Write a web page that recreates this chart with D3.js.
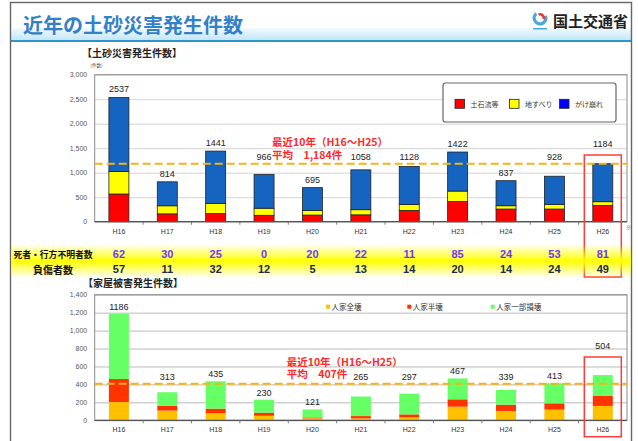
<!DOCTYPE html>
<html lang="ja">
<head>
<meta charset="utf-8">
<script src="https://cdn.jsdelivr.net/npm/d3@7"></script>
<style>
  html, body { margin: 0; padding: 0; background: #fff; }
  svg { display: block; font-family: 'Noto Sans CJK JP', 'Noto Sans', sans-serif; }
  .num { font-family: 'Liberation Sans', Arial, sans-serif; }
</style>
</head>
<body>
<svg id="chart" width="638" height="441"></svg>
<script>
// =============================================================================
// DATA
// =============================================================================
const years = ['H16', 'H17', 'H18', 'H19', 'H20', 'H21', 'H22', 'H23', 'H24', 'H25', 'H26'];

// 土砂災害発生件数
const debrisFlow   = [565, 160, 165, 130, 135, 140, 230, 410, 258, 258, 333];
const landslide    = [461, 165, 210, 145,  95, 105, 120, 215,  68,  96,  75];
const slopeFailure = [1511, 489, 1066, 691, 465, 813, 778, 797, 511, 574, 776];
const sedimentTicks = [0, 500, 1000, 1500, 2000, 2500, 3000];
const sedimentAvg = 1184;

// 死者・行方不明者数 / 負傷者数
const deaths  = [62, 30, 25, 0, 20, 22, 11, 85, 24, 53, 81];
const injured = [57, 11, 32, 12, 5, 13, 14, 20, 14, 24, 49];

// 家屋被害発生件数
const houseDestroyed = [204, 108, 78, 50, 22, 22, 32, 152, 104, 119, 160];
const houseHalf      = [256, 52, 52, 35, 10, 25, 34, 82, 70, 70, 111];
const housePartial   = [726, 153, 305, 145, 89, 218, 231, 233, 165, 224, 233];
const houseTicks = [0, 200, 400, 600, 800, 1000, 1200, 1400];
const houseAvg = 407;

const highlightYear = 'H26';

// =============================================================================
// LAYOUT
// =============================================================================
const svg = d3.select('#chart');
const plotLeft = 94.7, plotRight = 627;
const x = d3.scaleBand().domain(years).range([plotLeft, plotRight]);
const barW = 20;
const cx = d => x(d) + x.bandwidth() / 2;
const fmt = d3.format(',');

function drawFrame() {
    const defs = svg.append('defs');
    const band = defs.append('linearGradient').attr('id', 'band').attr('x1', 0).attr('x2', 0).attr('y1', 0).attr('y2', 1);
    band.append('stop').attr('offset', '0%').attr('stop-color', '#f2fafe');
    band.append('stop').attr('offset', '100%').attr('stop-color', '#c4e6f6');
    const hl = defs.append('linearGradient').attr('id', 'hl').attr('x1', 0).attr('x2', 0).attr('y1', 0).attr('y2', 1);
    hl.append('stop').attr('offset', '0%').attr('stop-color', '#ffff00').attr('stop-opacity', 0);
    hl.append('stop').attr('offset', '50%').attr('stop-color', '#ffff00').attr('stop-opacity', 1);
    hl.append('stop').attr('offset', '100%').attr('stop-color', '#ffff00').attr('stop-opacity', 0);

    svg.append('rect').attr('x', 11).attr('y', 28).attr('width', 620).attr('height', 12).attr('fill', 'url(#band)');
    svg.append('rect').attr('x', 11).attr('y', 40).attr('width', 620).attr('height', 2).attr('fill', '#2b96cc');

    svg.append('text')
        .attr('x', 23).attr('y', 24)
        .attr('dominant-baseline', 'central')
        .attr('font-size', '20px').attr('font-weight', 'bold')
        .attr('fill', '#3380c8')
        .text('近年の土砂災害発生件数');

    // logo
    const logo = svg.append('g').attr('transform', 'translate(540,18)');
    logo.append('path').attr('d', d3.arc().innerRadius(4.2).outerRadius(7.5).startAngle(1.2).endAngle(5.6)()).attr('fill', '#4aa6dc');
    logo.append('path').attr('d', d3.arc().innerRadius(2.5).outerRadius(5).startAngle(-0.4).endAngle(1.9)()).attr('fill', '#e23a3a');
    logo.append('rect').attr('x', -7).attr('y', 10).attr('width', 14).attr('height', 1.5).attr('fill', '#4aa6dc');
    svg.append('text')
        .attr('x', 553).attr('y', 20)
        .attr('dominant-baseline', 'central')
        .attr('font-size', '15px').attr('font-weight', 'bold')
        .attr('fill', '#222')
        .text('国土交通省');

    svg.append('rect')
        .attr('x', 10.5).attr('y', 2.5).attr('width', 621).attr('height', 460)
        .attr('fill', 'none').attr('stroke', '#666').attr('stroke-width', 1.4);
}

// =============================================================================
// STACKED BAR CHART
// =============================================================================
function drawStackChart(cfg) {
    const y = d3.scaleLinear().domain([0, cfg.ticks[cfg.ticks.length - 1]]).range([cfg.bottom, cfg.top]);
    const width = plotRight - plotLeft;
    const g = svg.append('g');

    const rows = years.map((yr, i) => {
        const r = { year: yr };
        cfg.series.forEach(s => { r[s.key] = s.values[i]; });
        return r;
    });
    const stacked = d3.stack().keys(cfg.series.map(s => s.key))(rows);
    const totals = rows.map(r => d3.sum(cfg.series, s => r[s.key]));
    const avgY = y(cfg.avg);

    // grid + y labels
    g.append('g')
        .attr('transform', `translate(${plotLeft},0)`)
        .call(d3.axisLeft(y).tickValues(cfg.ticks).tickSize(-width).tickPadding(7.5).tickFormat(fmt))
        .call(ax => ax.select('.domain').remove())
        .call(ax => ax.selectAll('.tick line').attr('stroke', cfg.gridColor).attr('stroke-width', 0.8))
        .call(ax => ax.selectAll('.tick text').attr('class', 'num').attr('font-size', '7px').attr('fill', '#555'));

    // plot frame
    g.append('rect')
        .attr('x', plotLeft).attr('y', y.range()[1])
        .attr('width', width).attr('height', y.range()[0] - y.range()[1])
        .attr('fill', 'none').attr('stroke', '#8a8a8a').attr('stroke-width', 1);

    if (cfg.legend) cfg.legend(g);

    // bars
    stacked.forEach((layer, li) => {
        g.selectAll(null)
            .data(layer)
            .enter()
            .append('rect')
            .attr('x', d => cx(d.data.year) - barW / 2)
            .attr('y', d => y(d[1]))
            .attr('width', barW)
            .attr('height', d => y(d[0]) - y(d[1]))
            .attr('fill', cfg.series[li].color)
            .attr('stroke', cfg.barStroke)
            .attr('stroke-width', cfg.barStroke === 'none' ? 0 : 0.8);
    });

    // baseline + small ticks between categories
    g.append('line')
        .attr('x1', plotLeft).attr('x2', plotRight)
        .attr('y1', y(0)).attr('y2', y(0))
        .attr('stroke', '#555').attr('stroke-width', 1.2);
    g.selectAll(null)
        .data(years.slice(1))
        .enter()
        .append('line')
        .attr('x1', d => x(d)).attr('x2', d => x(d))
        .attr('y1', y(0)).attr('y2', y(0) + 3)
        .attr('stroke', '#777');

    // x labels
    g.append('g')
        .attr('transform', `translate(0,${cfg.xLabelY})`)
        .call(d3.axisBottom(x).tickSize(0).tickPadding(0))
        .call(ax => ax.select('.domain').remove())
        .call(ax => ax.selectAll('.tick text').attr('class', 'num').attr('dy', '0.32em').attr('font-size', '7px').attr('fill', '#333'));

    // totals — lifted above the average line / highlight box when they would collide
    const labelY = (d, i) => {
        let yy = y(totals[i]) - cfg.labelLift;
        if (yy > avgY - 3 && yy - 8 < avgY + 2) yy = avgY - 4;
        if (d.year === highlightYear && yy > cfg.boxTop - 2) yy = cfg.boxTop - 8;
        return yy;
    };
    g.selectAll(null)
        .data(rows)
        .enter()
        .append('text')
        .attr('class', 'num')
        .attr('x', d => cx(d.year))
        .attr('y', labelY)
        .attr('text-anchor', 'middle')
        .attr('font-size', '9px')
        .attr('fill', '#222')
        .text((d, i) => totals[i]);

    // average line
    g.append('line')
        .attr('x1', plotLeft).attr('x2', plotRight)
        .attr('y1', avgY).attr('y2', avgY)
        .attr('stroke', '#f5b414').attr('stroke-width', 2)
        .attr('stroke-dasharray', '8 4');

    const note = g.append('text')
        .attr('font-size', '10.5px')
        .attr('font-weight', 'bold')
        .attr('fill', '#ff2a2a');
    note.append('tspan').attr('x', cfg.noteX).attr('y', cfg.noteY).attr('dominant-baseline', 'central').text('最近10年（H16～H25）');
    note.append('tspan').attr('x', cfg.noteX).attr('y', cfg.noteY + 12.5).attr('dominant-baseline', 'central').text(`平均\u3000${fmt(cfg.avg)}件`);

    // highlight box
    g.append('rect')
        .attr('x', cx(highlightYear) - 18.5).attr('y', cfg.boxTop)
        .attr('width', 37).attr('height', cfg.boxBottom - cfg.boxTop)
        .attr('fill', 'none').attr('stroke', '#ff3b3b').attr('stroke-width', 1.5);

    return y;
}

// =============================================================================
// CASUALTY TABLE
// =============================================================================
function drawCasualties() {
    svg.append('rect').attr('x', 11).attr('y', 244).attr('width', 620).attr('height', 34).attr('fill', 'url(#hl)');

    const labels = [['死者・行方不明者数', 254, 8.8], ['負傷者数', 269, 10]];
    labels.forEach(([t, yy, fs]) => {
        svg.append('text')
            .attr('x', 53).attr('y', yy)
            .attr('text-anchor', 'middle').attr('dominant-baseline', 'central')
            .attr('font-size', `${fs}px`).attr('font-weight', 'bold').attr('fill', '#111')
            .text(t);
    });

    [[deaths, 254, '#7038f0'], [injured, 269, '#1c2a48']].forEach(([vals, yy, col]) => {
        svg.selectAll(null)
            .data(vals)
            .enter()
            .append('text')
            .attr('class', 'num')
            .attr('x', (d, i) => cx(years[i]))
            .attr('y', yy)
            .attr('dy', '0.35em')
            .attr('text-anchor', 'middle')
            .attr('font-size', '11px').attr('font-weight', 'bold')
            .attr('fill', col)
            .text(d => d);
    });
}

// =============================================================================
// RENDER
// =============================================================================
drawFrame();

svg.append('text')
    .attr('x', 82).attr('y', 52).attr('dominant-baseline', 'central')
    .attr('font-size', '10px').attr('font-weight', 'bold').attr('fill', '#222')
    .text('【土砂災害発生件数】');

drawStackChart({
    series: [
        { key: 'debris', name: '土石流等', values: debrisFlow, color: '#ff0000' },
        { key: 'slide', name: '地すべり', values: landslide, color: '#ffff00' },
        { key: 'slope', name: 'がけ崩れ', values: slopeFailure, color: '#1464c0' },
    ],
    ticks: sedimentTicks,
    top: 74.7, bottom: 221.7,
    gridColor: '#c8c8c8',
    barStroke: '#222',
    xLabelY: 232,
    labelLift: 5,
    avg: sedimentAvg,
    noteX: 272, noteY: 141.7,
    boxTop: 155, boxBottom: 277,
    legend: g => {
        g.append('rect')
            .attr('x', 443).attr('y', 83).attr('width', 173).attr('height', 39).attr('rx', 2.5)
            .attr('fill', '#fff').attr('stroke', '#666').attr('stroke-width', 1.2);
        const items = [['土石流等', '#ff0000', 455], ['地すべり', '#ffff00', 509.5], ['がけ崩れ', '#0000ff', 559.5]];
        items.forEach(([t, c, lx]) => {
            g.append('rect').attr('x', lx).attr('y', 99.3).attr('width', 9.5).attr('height', 9)
                .attr('fill', c).attr('stroke', '#222').attr('stroke-width', 0.8);
            g.append('text').attr('x', lx + 15.5).attr('y', 104).attr('dominant-baseline', 'central')
                .attr('font-size', '7px').attr('fill', '#333').text(t);
        });
    },
});

svg.append('text').attr('x', 90.5).attr('y', 67).attr('font-size', '4.5px').attr('fill', '#444').text('(件数)');
svg.append('text').attr('x', 626).attr('y', 229).attr('font-size', '5px').attr('fill', '#555').text('※');

drawCasualties();

svg.append('text')
    .attr('x', 83).attr('y', 282.5).attr('dominant-baseline', 'central')
    .attr('font-size', '10px').attr('font-weight', 'bold').attr('fill', '#222')
    .text('【家屋被害発生件数】');

drawStackChart({
    series: [
        { key: 'full', name: '人家全壊', values: houseDestroyed, color: '#ffc000' },
        { key: 'half', name: '人家半壊', values: houseHalf, color: '#ff3300' },
        { key: 'part', name: '人家一部損壊', values: housePartial, color: '#66ff66' },
    ],
    ticks: houseTicks,
    top: 294.7, bottom: 420.3,
    gridColor: '#a8a8a8',
    barStroke: 'none',
    xLabelY: 429.3,
    labelLift: 4,
    avg: houseAvg,
    noteX: 286.7, noteY: 361,
    boxTop: 357, boxBottom: 436.7,
    legend: g => {
        const items = [['人家全壊', '#ffc000', 326], ['人家半壊', '#ff3300', 407.3], ['人家一部損壊', '#66ff66', 490.7]];
        items.forEach(([t, c, lx]) => {
            g.append('rect').attr('x', lx).attr('y', 304.7).attr('width', 4).attr('height', 4).attr('fill', c);
            g.append('text').attr('x', lx + 5.5).attr('y', 306.7).attr('dominant-baseline', 'central')
                .attr('font-size', '7.5px').attr('fill', '#333').text(t);
        });
    },
});
</script>
</body>
</html>
